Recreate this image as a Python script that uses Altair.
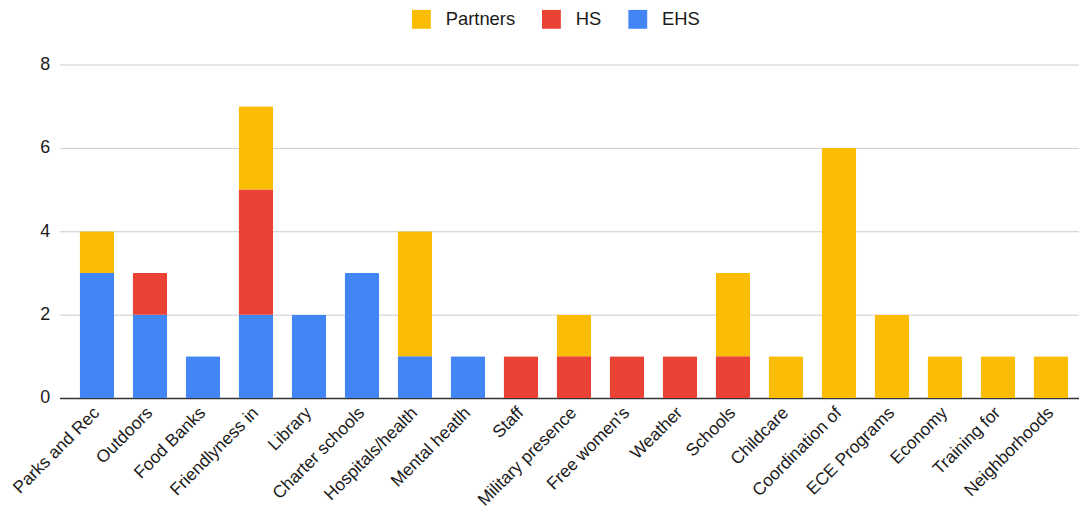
import altair as alt
import pandas as pd

categories = ["Parks and Rec", "Outdoors", "Food Banks", "Friendlyness in", "Library",
              "Charter schools", "Hospitals/health", "Mental heatlh", "Staff",
              "Military presence", "Free women's", "Weather", "Schools", "Childcare",
              "Coordination of", "ECE Programs", "Economy", "Training for", "Neighborhoods"]
ehs =      [3, 2, 1, 2, 2, 3, 1, 1, 0, 0, 0, 0, 0, 0, 0, 0, 0, 0, 0]
hs =       [0, 1, 0, 3, 0, 0, 0, 0, 1, 1, 1, 1, 1, 0, 0, 0, 0, 0, 0]
partners = [1, 0, 0, 2, 0, 0, 3, 0, 0, 1, 0, 0, 2, 1, 6, 2, 1, 1, 1]

series_names = ["Partners", "HS", "EHS"]
series_colors = ["#FBBC04", "#EA4335", "#4285F4"]
stack_rank = {"EHS": 0, "HS": 1, "Partners": 2}

rows = []
for i, c in enumerate(categories):
    for name, vals in (("EHS", ehs), ("HS", hs), ("Partners", partners)):
        if vals[i] > 0:
            rows.append({"category": c, "series": name, "value": vals[i], "rank": stack_rank[name]})
df = pd.DataFrame(rows)

FONT = "Liberation Sans"

chart = alt.Chart(df).mark_bar(cornerRadius=1.5).encode(
    x=alt.X("category:N", sort=categories, title=None,
            scale=alt.Scale(paddingInner=0.345, paddingOuter=0.29, align=0.65),
            axis=alt.Axis(labelAngle=-45, labelAlign="right", labelBaseline="middle",
                          labelPadding=12, ticks=False, domainColor="#333333",
                          domainWidth=1.5, labelFontSize=17.5, labelColor="#1a1a1a",
                          labelFont=FONT, grid=False)),
    y=alt.Y("value:Q", title=None, stack="zero",
            scale=alt.Scale(domain=[0, 8]),
            axis=alt.Axis(values=[0, 2, 4, 6, 8], domain=False, ticks=False,
                          labelPadding=10, labelFontSize=18, labelColor="#1a1a1a",
                          labelFont=FONT, gridColor="#CCCCCC", gridWidth=1)),
    color=alt.Color("series:N",
                    scale=alt.Scale(domain=series_names, range=series_colors),
                    legend=alt.Legend(title=None, orient="none", direction="horizontal",
                                      legendX=355, legendY=-55,
                                      symbolType="square", symbolSize=361,
                                      symbolStrokeWidth=0, symbolOpacity=1,
                                      labelFontSize=18.5, labelFont=FONT,
                                      labelColor="#1a1a1a", labelOffset=15,
                                      columnPadding=27)),
    order=alt.Order("rank:Q", sort="ascending"),
).properties(
    width=1027, height=336,
    autosize=alt.AutoSizeParams(type="none"),
    padding={"left": 52, "top": 55, "right": 0, "bottom": 126},
).configure_view(stroke=None)

chart.save("out.html", embed_options={"renderer": "svg", "actions": False})
